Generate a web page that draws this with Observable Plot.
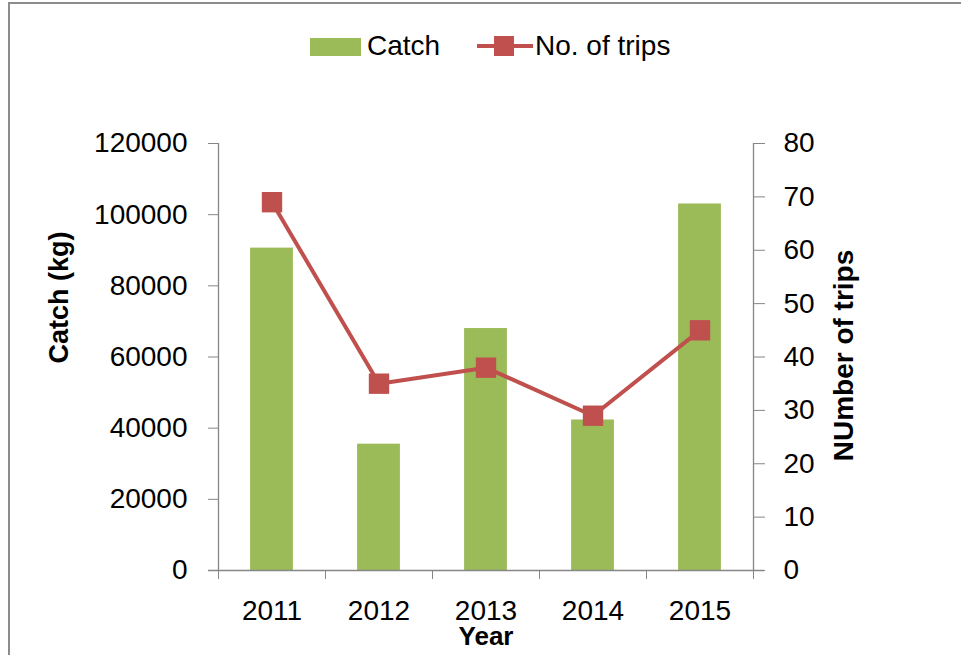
<!DOCTYPE html>
<html>
<head>
<meta charset="utf-8">
<script src="https://cdn.jsdelivr.net/npm/d3@7"></script>
<script src="https://cdn.jsdelivr.net/npm/@observablehq/plot@0.6"></script>
<style>
  html, body { margin: 0; padding: 0; background: #fff; }
  #wrap { position: relative; width: 961px; height: 655px; overflow: hidden; background: #fff;
          font-family: 'Liberation Sans', Arial, sans-serif; color: #000; }
  .border-top { position: absolute; left: 8px; top: 2px; width: 953px; height: 2px; background: #8c8c8c; }
  .border-left { position: absolute; left: 8px; top: 2px; width: 2px; height: 653px; background: #8c8c8c; }
  #legend { position: absolute; left: 0; top: 0; width: 961px; height: 100px; }
  .lg-text { position: absolute; font-size: 28px; line-height: 28px; white-space: nowrap; }
  #chart { position: absolute; left: 0; top: 100px; }
</style>
</head>
<body>
<div id="wrap">
  <div class="border-top"></div>
  <div class="border-left"></div>
  <div id="legend"></div>
  <div id="chart"></div>
</div>
<script>
// ---- data ----
const years = [2011, 2012, 2013, 2014, 2015];
const catchKg = [90600, 35500, 68000, 42300, 103000];
const trips = [69, 35, 38, 29, 45];
const leftTicks = [0, 20000, 40000, 60000, 80000, 100000, 120000];
const rightTicks = [0, 10, 20, 30, 40, 50, 60, 70, 80];
const yearBounds = [2010.5, 2011.5, 2012.5, 2013.5, 2014.5, 2015.5];
const seriesNames = ["Catch", "No. of trips"];
const catchMax = 120000;
const tripsMax = 80;

const green = "#9BBB59";
const red = "#C0504D";
const axisGray = "#868686";
const ratio = catchMax / tripsMax;

const data = years.map((year, i) => ({
  year, catch: catchKg[i], trips: trips[i], tripsScaled: trips[i] * ratio
}));

// ---- legend (HTML, above the SVG) ----
const legend = document.getElementById("legend");
legend.innerHTML = `
  <div style="position:absolute;left:310px;top:38px;width:51px;height:18px;background:${green}"></div>
  <div class="lg-text" style="left:367px;top:32px">${seriesNames[0]}</div>
  <div style="position:absolute;left:477px;top:44px;width:56px;height:4px;background:${red}"></div>
  <div style="position:absolute;left:494px;top:36px;width:20px;height:20px;background:${red}"></div>
  <div class="lg-text" style="left:535px;top:32px">${seriesNames[1]}</div>
`;

// ---- chart ----
const chart = Plot.plot({
  width: 961,
  height: 555,
  marginTop: 43,
  marginBottom: 85,
  marginLeft: 218,
  marginRight: 208,
  style: {
    fontFamily: "'Liberation Sans', Arial, sans-serif",
    fontSize: "28px",
    color: "#000",
    background: "transparent",
    overflow: "visible"
  },
  x: { type: "linear", domain: [yearBounds[0], yearBounds[yearBounds.length - 1]] },
  y: { domain: [0, catchMax] },
  marks: [
    Plot.rectY(data, {
      x1: d => d.year - 0.2,
      x2: d => d.year + 0.2,
      y1: 0,
      y2: "catch",
      fill: green
    }),
    // axis lines
    Plot.ruleX([yearBounds[0]], { stroke: axisGray, strokeWidth: 1.3 }),
    Plot.ruleX([yearBounds[yearBounds.length - 1]], { stroke: axisGray, strokeWidth: 1.3 }),
    Plot.ruleY([0], { stroke: axisGray, strokeWidth: 1.3, insetLeft: -10, insetRight: -11 }),
    // left axis
    Plot.axisY({
      anchor: "left",
      ticks: leftTicks,
      tickSize: 10,
      tickPadding: 21,
      tickFormat: d => String(d),
      stroke: axisGray,
      fill: "#000",
      label: null
    }),
    // right axis (No. of trips)
    Plot.axisY({
      anchor: "right",
      ticks: rightTicks.map(t => t * ratio),
      tickSize: 11,
      tickPadding: 19,
      tickFormat: d => String(Math.round(d / ratio)),
      stroke: axisGray,
      fill: "#000",
      label: null
    }),
    // x boundary ticks
    Plot.axisX({
      ticks: yearBounds,
      tickSize: 9,
      tickFormat: () => "",
      stroke: axisGray,
      label: null
    }),
    // x labels
    Plot.axisX({
      ticks: years,
      tickSize: 0,
      tickPadding: 30,
      tickFormat: d => String(d),
      fill: "#000",
      label: null
    }),
    // trips line
    Plot.line(data, { x: "year", y: "tripsScaled", stroke: red, strokeWidth: 4 }),
    Plot.dot(data, { x: "year", y: "tripsScaled", symbol: "square", r: 11.5, fill: red, stroke: null }),
    // titles
    Plot.text(["Catch (kg)"], {
      frameAnchor: "left", textAnchor: "middle", lineAnchor: "middle",
      dx: -159, dy: -59.5, rotate: -90,
      fontWeight: "bold", fontSize: 27, fill: "#000"
    }),
    Plot.text(["NUmber of trips"], {
      frameAnchor: "right", textAnchor: "middle", lineAnchor: "middle",
      dx: 91, dy: -1.5, rotate: -90,
      fontWeight: "bold", fontSize: 28, fill: "#000"
    }),
    Plot.text(["Year"], {
      frameAnchor: "bottom", textAnchor: "middle", lineAnchor: "middle",
      dy: 66,
      fontWeight: "bold", fontSize: 26, fill: "#000"
    })
  ]
});
document.getElementById("chart").appendChild(chart);
</script>
</body>
</html>
